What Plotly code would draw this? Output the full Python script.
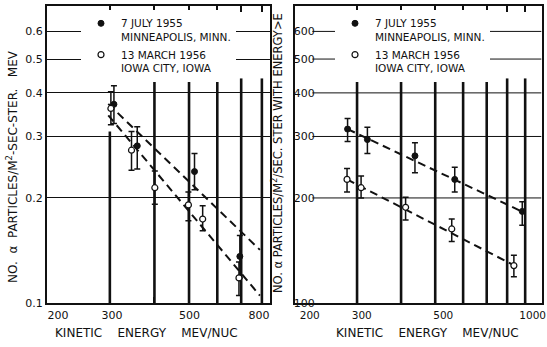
import math
import plotly.graph_objects as go

# ---- Differential spectrum (particles / m^2-sec-ster-MeV) ----
diff_e_jul = [308, 358, 518, 694]
diff_j_jul = [0.371, 0.282, 0.238, 0.136]
diff_hi_jul = [0.419, 0.320, 0.268, 0.156]
diff_lo_jul = [0.327, 0.242, 0.211, 0.118]

diff_e_mar = [302, 345, 401, 498, 546, 690]
diff_j_mar = [0.361, 0.274, 0.214, 0.191, 0.174, 0.118]
diff_hi_mar = [0.403, 0.310, 0.239, 0.208, 0.190, 0.131]
diff_lo_mar = [0.324, 0.240, 0.192, 0.172, 0.161, 0.105]

# fitted power-law lines (end points)
diff_fit_e = [297, 790]
diff_fit_jul = [0.372, 0.142]
diff_fit_mar = [0.345, 0.105]

# ---- Integral spectrum (particles / m^2-sec-ster with energy > E) ----
int_e_jul = [282, 321, 438, 568, 883]
int_n_jul = [315, 294, 264, 226, 183]
int_hi_jul = [338, 319, 288, 245, 195]
int_lo_jul = [290, 268, 236, 208, 167]

int_e_mar = [281, 308, 412, 557, 836]
int_n_mar = [226, 214, 188, 163, 128]
int_hi_mar = [243, 231, 201, 174, 137]
int_lo_mar = [208, 200, 173, 150, 119]

int_fit_e_jul = [282, 880]
int_fit_jul = [315, 183]
int_fit_e_mar = [281, 833]
int_fit_mar = [226, 128.5]

SP = "\u00a0"

# axis ticks
left_xticks = [200, 300, 400, 500, 600, 700, 800]
left_xlabels = [SP * 8 + "200", SP * 3 + "300", "", SP * 2 + "500", "", "", "800"]
right_xticks = [200, 300, 400, 500, 600, 700, 800, 900, 1000]
right_xlabels = [SP * 8 + "200", SP * 5 + "300", "", SP * 6 + "500",
                 "", "", "", "", "1000"]
left_yticks = [0.1, 0.2, 0.3, 0.4, 0.5, 0.6]
left_ylabels = ["0.1", "0.2", "0.3", "0.4", "0.5", "0.6"]
right_yticks = [100, 200, 300, 400, 500, 600]
right_ylabels = ["100", "200", "300", "400", "500", "600"]

LABEL_JUL = "7 JULY 1955<br>MINNEAPOLIS, MINN."
LABEL_MAR = "13 MARCH 1956<br>IOWA CITY, IOWA"

XTITLE = f"KINETIC{SP*3} ENERGY{SP*3} MEV/NUC"
YTITLE_LEFT = f"NO.{SP} α{SP} PARTICLES/M<sup>2</sup>-SEC-STER.{SP*2} MEV"
YTITLE_RIGHT = "NO. α PARTICLES/M<sup>2</sup>/SEC. STER WITH ENERGY>E"

FONT = "DejaVu Sans"
INK = "#111111"

fig = go.Figure()


def err(vals, hi, lo):
    return dict(type="data", symmetric=False,
                array=[h - v for h, v in zip(hi, vals)],
                arrayminus=[v - l for v, l in zip(vals, lo)],
                color=INK, thickness=1.5, width=3)


def add_panel(xa, ya, leg, e_j, v_j, hi_j, lo_j, e_m, v_m, hi_m, lo_m,
              fit_ej, fit_j, fit_em, fit_m):
    for fx, fy in ((fit_ej, fit_j), (fit_em, fit_m)):
        fig.add_trace(go.Scatter(
            x=fx, y=fy, mode="lines", xaxis=xa, yaxis=ya, showlegend=False,
            line=dict(color=INK, width=2, dash="8px,5px"), hoverinfo="skip"))
    fig.add_trace(go.Scatter(
        x=e_j, y=v_j, mode="markers", xaxis=xa, yaxis=ya, name=LABEL_JUL,
        legend=leg, legendgroup=leg + "a",
        marker=dict(symbol="circle", size=6, color=INK,
                    line=dict(color=INK, width=1)),
        error_y=err(v_j, hi_j, lo_j)))
    fig.add_trace(go.Scatter(
        x=e_m, y=v_m, mode="markers", xaxis=xa, yaxis=ya, name=LABEL_MAR,
        legend=leg, legendgroup=leg + "b",
        marker=dict(symbol="circle", size=6, color="white",
                    line=dict(color=INK, width=1.2)),
        error_y=err(v_m, hi_m, lo_m)))


add_panel("x", "y", "legend",
          diff_e_jul, diff_j_jul, diff_hi_jul, diff_lo_jul,
          diff_e_mar, diff_j_mar, diff_hi_mar, diff_lo_mar,
          diff_fit_e, diff_fit_jul, diff_fit_e, diff_fit_mar)
add_panel("x2", "y2", "legend2",
          int_e_jul, int_n_jul, int_hi_jul, int_lo_jul,
          int_e_mar, int_n_mar, int_hi_mar, int_lo_mar,
          int_fit_e_jul, int_fit_jul, int_fit_e_mar, int_fit_mar)

# heavy vertical rulings and (right panel) horizontal rulings
shapes = []
for xv in left_xticks[1:]:
    top = 0.31 if xv == 300 else 0.44
    shapes.append(dict(type="line", xref="x", yref="y", x0=xv, x1=xv,
                       y0=0.1, y1=top, layer="below",
                       line=dict(color=INK, width=2.6)))
for xv in right_xticks[1:-1]:
    shapes.append(dict(type="line", xref="x2", yref="y2", x0=xv, x1=xv,
                       y0=100, y1=440, layer="below",
                       line=dict(color=INK, width=2.6)))
for yv in right_yticks[1:]:
    shapes.append(dict(type="line", xref="x2", yref="y2", x0=224, x1=1000,
                       y0=yv, y1=yv, layer="below",
                       line=dict(color=INK, width=1)))

W, H = 547, 347
ydom = [1 - 303 / H, 1 - 6 / H]

common_x = dict(type="log", showgrid=False, showline=True, linecolor=INK,
                linewidth=2, mirror="ticks", ticks="inside", ticklen=6,
                tickwidth=2, tickcolor=INK, zeroline=False, automargin=False,
                ticklabelstandoff=1, ticklabeloverflow="allow",
                tickfont=dict(size=11, color=INK, family=FONT))
common_y = dict(type="log", showgrid=True, gridcolor=INK, gridwidth=1,
                showline=True, linecolor=INK, linewidth=2, mirror=True,
                ticks="", zeroline=False, automargin=False,
                tickfont=dict(size=11, color=INK, family=FONT))

title_font = dict(size=12, color=INK, family=FONT)
annotations = [
    dict(text=XTITLE, xref="paper", yref="paper", x=146 / W, y=1 - 333 / H,
         xanchor="center", yanchor="middle", showarrow=False, font=title_font),
    dict(text=XTITLE, xref="paper", yref="paper", x=427 / W, y=1 - 333 / H,
         xanchor="center", yanchor="middle", showarrow=False, font=title_font),
    dict(text=YTITLE_LEFT, xref="paper", yref="paper", x=12 / W, y=1 - 167 / H,
         xanchor="center", yanchor="middle", textangle=-90, showarrow=False,
         font=title_font),
    dict(text=YTITLE_RIGHT, xref="paper", yref="paper", x=277 / W, y=1 - 153 / H,
         xanchor="center", yanchor="middle", textangle=-90, showarrow=False,
         font=dict(size=11.5, color=INK, family=FONT)),
]

legend_font = dict(size=10.5, color=INK, family=FONT)

fig.update_layout(
    width=W, height=H,
    margin=dict(l=0, r=0, t=0, b=0),
    paper_bgcolor="white", plot_bgcolor="white",
    font=dict(family=FONT, size=11, color=INK),
    shapes=shapes,
    annotations=annotations,
    xaxis=dict(common_x, domain=[47 / W, 270 / W],
               range=[math.log10(200), math.log10(843)], ticklabelshift=-3,
               tickvals=left_xticks, ticktext=left_xlabels, anchor="y"),
    yaxis=dict(common_y, domain=ydom, range=[-1, -0.149],
               tickvals=left_yticks, ticktext=left_ylabels, anchor="x"),
    xaxis2=dict(common_x, domain=[295 / W, 542 / W],
                range=[math.log10(200), 3.002],
                ticklabelposition="outside right", ticklabelshift=-24,
                tickfont=dict(size=10.5, color=INK, family=FONT),
                tickvals=right_xticks, ticktext=right_xlabels, anchor="y2"),
    yaxis2=dict(common_y, domain=ydom, range=[2, 2.851], showgrid=False,
                tickvals=right_yticks, ticktext=right_ylabels, anchor="x2",
                ticklabelposition="outside", ticklabelstandoff=-24),
    legend=dict(x=81 / W, y=1 - 10 / H, xanchor="left", yanchor="top",
                bgcolor="white", borderwidth=0, valign="top",
                tracegroupgap=1, font=legend_font),
    legend2=dict(x=335 / W, y=1 - 10 / H, xanchor="left", yanchor="top",
                 bgcolor="white", borderwidth=0, valign="top",
                 tracegroupgap=1, font=legend_font),
)

fig.write_html("out.html")
